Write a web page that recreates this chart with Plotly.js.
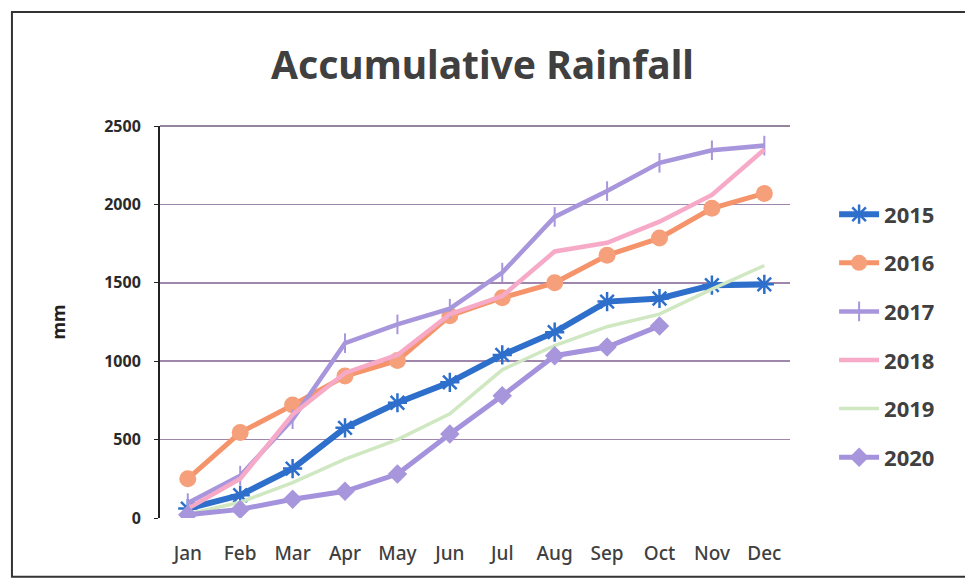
<!DOCTYPE html>
<html>
<head>
<meta charset="utf-8">
<script src="https://cdn.plot.ly/plotly-3.0.1.min.js"></script>
<style>html,body{margin:0;padding:0;background:#fff;}#chart{width:965px;height:580px;}</style>
</head>
<body>
<div id="chart"></div>
<script>
const months = ["Jan","Feb","Mar","Apr","May","Jun","Jul","Aug","Sep","Oct","Nov","Dec"];
const y2015 = [60, 145, 315, 575, 735, 865, 1040, 1185, 1380, 1400, 1485, 1490];
const y2016 = [250, 545, 720, 905, 1005, 1290, 1405, 1500, 1675, 1785, 1975, 2070];
const y2017 = [95, 270, 630, 1115, 1235, 1335, 1565, 1920, 2085, 2265, 2345, 2375];
const y2018 = [60, 250, 660, 925, 1040, 1300, 1415, 1700, 1755, 1890, 2060, 2350];
const y2019 = [25, 100, 225, 375, 500, 665, 945, 1100, 1220, 1300, 1460, 1610];
const y2020 = [20, 55, 120, 170, 280, 535, 780, 1035, 1090, 1225];
const tickVals = [0, 500, 1000, 1500, 2000, 2500];

const txt = '#404040';
const traces = [
  {name:'2015', y:y2015, line:{color:'#2e6fcc', width:6}, marker:{symbol:'asterisk-open', size:16, line:{color:'#2e6fcc', width:2.5}}},
  {name:'2016', y:y2016, line:{color:'#f5946a', width:5}, marker:{symbol:'circle', size:17, color:'#f5a07a'}},
  {name:'2017', y:y2017, line:{color:'#a896dc', width:4.5}, marker:{symbol:'line-ns-open', size:14, line:{color:'#8d7bc8', width:2}}},
  {name:'2018', y:y2018, line:{color:'#f7aac8', width:4.5}, mode:'lines'},
  {name:'2019', y:y2019, line:{color:'#cfe8c2', width:3.5}, mode:'lines'},
  {name:'2020', y:y2020, line:{color:'#a592dc', width:5}, marker:{symbol:'diamond', size:15, color:'#a896dc'}}
].map((t,i)=>Object.assign({x:months.slice(0,t.y.length), type:'scatter', mode:'lines+markers', legendgroup:'g'+i}, t));

const layout = {
  width:965, height:580,
  margin:{l:160, r:175, t:126, b:62},
  paper_bgcolor:'#fff', plot_bgcolor:'#fff',
  showlegend:true,
  title:{text:'Accumulative Rainfall', x:0.5, xanchor:'center', y:0.888, yanchor:'middle',
         font:{family:'Noto Sans', size:39, weight:'bold', color:txt}},
  xaxis:{type:'category', range:[-0.53, 11.49], showgrid:false, zeroline:false, showline:false,
         ticks:'', ticklabelstandoff:22, tickfont:{family:'Noto Sans', size:19, weight:500, color:txt}},
  yaxis:{range:[0,2500], tickvals:tickVals, ticktext:tickVals.map(String), showgrid:true, gridcolor:'#9e86ad', gridwidth:1.5,
         zeroline:false, showline:true, linecolor:'#222', linewidth:2, ticks:'outside', ticklen:4, tickcolor:'#222',
         ticklabelstandoff:10,
         tickfont:{family:'Noto Sans', size:16, weight:'bold', color:'#2a2a2a'},
         title:{text:'mm', font:{family:'Noto Sans', size:18, weight:'bold', color:'#222'}, standoff:34}},
  legend:{x:1.07, xanchor:'left', y:0.828, yanchor:'top', tracegroupgap:17, traceorder:'grouped',
          font:{family:'Noto Sans', size:22, weight:'bold', color:txt}, bgcolor:'rgba(0,0,0,0)', itemwidth:40},
  shapes:[
    {type:'line', xref:'paper', yref:'paper', x0:0, x1:1, y0:1, y1:1, line:{color:'#6f5c7a', width:1.5}},
    {type:'rect', xref:'paper', yref:'paper', x0:-0.235, x1:1.3, y0:-0.15, y1:1.291, line:{color:'#333', width:2}}
  ]
};
Plotly.newPlot('chart', traces, layout, {displayModeBar:false, staticPlot:true});
</script>
</body>
</html>
